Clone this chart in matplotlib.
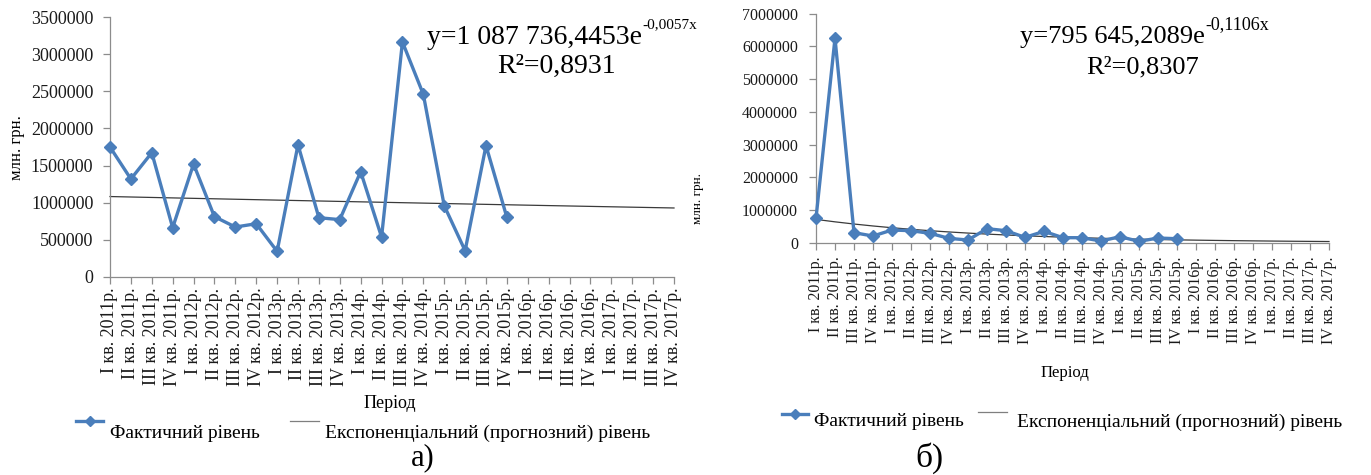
import numpy as np
import matplotlib
matplotlib.use("Agg")
import matplotlib.pyplot as plt
from matplotlib.lines import Line2D

W, H, DPI = 1371, 475, 100
FONT = "Liberation Serif"
plt.rcParams["font.family"] = [FONT, "DejaVu Serif"]

# ---------------- data ----------------
quarters = ["I", "II", "III", "IV"]
years = [2011, 2012, 2013, 2014, 2015, 2016, 2017]
periods = [f"{q} кв. {y}р." for y in years for q in quarters]

actual_a = [1750000, 1318000, 1673000, 661000, 1520000, 810000, 670000, 715000,
            342000, 1780000, 796000, 770000, 1417000, 535000, 3167000, 2460000,
            958000, 351000, 1768000, 800000]
actual_b = [745000, 6250000, 306000, 204000, 388000, 367000, 286000, 133000,
            82000, 429000, 367000, 163000, 347000, 153000, 153000, 51000,
            184000, 41000, 143000, 122000]

# exponential trend coefficients (as printed on the charts)
coef_a, rate_a, r2_a = 1087736.4453, -0.0057, "0,8931"
coef_b, rate_b, r2_b = 795645.2089, -0.1106, "0,8307"
eq_a_main, eq_a_sup = "y=1 087 736,4453e", "-0,0057x"
eq_b_main, eq_b_sup = "y=795 645,2089e", "-0,1106x"

yticks_a = [0, 500000, 1000000, 1500000, 2000000, 2500000, 3000000, 3500000]
yticks_b = [0, 1000000, 2000000, 3000000, 4000000, 5000000, 6000000, 7000000]

legend_actual = "Фактичний рівень"
legend_trend = "Експоненціальний (прогнозний) рівень"
ylabel = "млн. грн."
xlabel = "Період"

BLUE = "#4A7EBB"
SPINE = "#8C8C8C"
TREND = "#3A3A3A"

fig = plt.figure(figsize=(W / DPI, H / DPI), dpi=DPI)
fig.patch.set_facecolor("white")


def fx(x):
    return x / W


def fy(y):
    return 1 - y / H


def make_axes(left, right, top, bottom):
    return fig.add_axes([fx(left), fy(bottom), (right - left) / W, (bottom - top) / H])


def style(ax, values, coef, rate, yticks, ytick_fs, xtick_fs, xpad, ypad, tick_len):
    n = len(periods)
    xs = np.arange(n)
    trend = coef * np.exp(rate * (xs + 1))
    ax.plot(xs, trend, color=TREND, lw=0.9, zorder=2, clip_on=False)
    ax.plot(np.arange(len(values)), values, color=BLUE, lw=2.4, marker="D",
            markersize=6, markerfacecolor=BLUE, markeredgecolor=BLUE,
            zorder=3, clip_on=False)
    ax.set_xlim(0, n - 1)
    ax.set_ylim(yticks[0], yticks[-1])
    ax.set_yticks(yticks)
    ax.set_yticklabels([str(int(v)) for v in yticks], fontsize=ytick_fs, color="#1a1a1a")
    ax.set_xticks(xs)
    ax.set_xticklabels(periods, rotation=90, fontsize=xtick_fs, color="#1a1a1a")
    for s in ["top", "right"]:
        ax.spines[s].set_visible(False)
    for s in ["left", "bottom"]:
        ax.spines[s].set_color(SPINE)
        ax.spines[s].set_linewidth(0.9)
    ax.tick_params(axis="x", direction="out", length=tick_len, width=0.9,
                   color=SPINE, pad=xpad)
    ax.tick_params(axis="y", direction="out", length=tick_len, width=0.9,
                   color=SPINE, pad=ypad)
    ax.set_facecolor("none")


# ---------------- panel a ----------------
ax_a = make_axes(110, 674, 17.3, 276.7)
style(ax_a, actual_a, coef_a, rate_a, yticks_a, 13, 13, 3, 7, 5)

# ---------------- panel b ----------------
ax_b = make_axes(816, 1329, 13.7, 242.7)
style(ax_b, actual_b, coef_b, rate_b, yticks_b, 11.5, 11.5, 5, 8, 5)

# axis titles
fig.text(fx(17), fy(148), ylabel, rotation=90, fontsize=12, ha="center", va="center")
fig.text(fx(698), fy(199), ylabel, rotation=90, fontsize=9.5, ha="center", va="center")
fig.text(fx(390), fy(403), xlabel, fontsize=13, ha="center", va="center")
fig.text(fx(1065), fy(373), xlabel, fontsize=12, ha="center", va="center")

# equations
fig.canvas.draw()
renderer = fig.canvas.get_renderer()


def equation(x, base_y, main, sup, fs_main, fs_sup, sup_base_y, r2_center_x, r2_base_y, r2):
    t = fig.text(fx(x), fy(base_y), main, fontsize=fs_main, ha="left", va="baseline")
    bb = t.get_window_extent(renderer)
    fig.text(bb.x1 / W, fy(sup_base_y), sup, fontsize=fs_sup, ha="left", va="baseline")
    fig.text(fx(r2_center_x), fy(r2_base_y), "R²=" + r2, fontsize=fs_main,
             ha="center", va="baseline")


equation(427, 44, eq_a_main, eq_a_sup, 20, 11, 28, 557, 73, r2_a)
equation(1020, 43, eq_b_main, eq_b_sup, 19, 13, 29, 1143, 73, r2_b)


# legends (drawn manually to match the layout)
def legend(x0, y0, x_text1, x1a, x1b, y1, x_text2, y_text, fs):
    fig.add_artist(Line2D([fx(x0), fx(x1a)], [fy(y0), fy(y0)],
                          color=BLUE, lw=2.4, transform=fig.transFigure))
    fig.add_artist(Line2D([fx((x0 + x1a) / 2)], [fy(y0)], marker="D", markersize=5,
                          color=BLUE, transform=fig.transFigure))
    fig.text(fx(x_text1), fy(y_text), legend_actual, fontsize=fs, ha="left", va="center")
    fig.add_artist(Line2D([fx(x1b), fx(x1b + 29)], [fy(y1), fy(y1)],
                          color="#7f7f7f", lw=0.9, transform=fig.transFigure))
    fig.text(fx(x_text2), fy(y_text), legend_trend, fontsize=fs, ha="left", va="center")


legend(76, 421, 110, 103, 290, 421, 325, 433, 14)
legend(782, 414, 814, 808, 978, 412, 1017, 422, 14)

fig.text(fx(423), fy(458), "а)", fontsize=22, ha="center", va="center")
fig.text(fx(929), fy(458), "б)", fontsize=24, ha="center", va="center")

fig.savefig("out.png", dpi=DPI, facecolor="white")
